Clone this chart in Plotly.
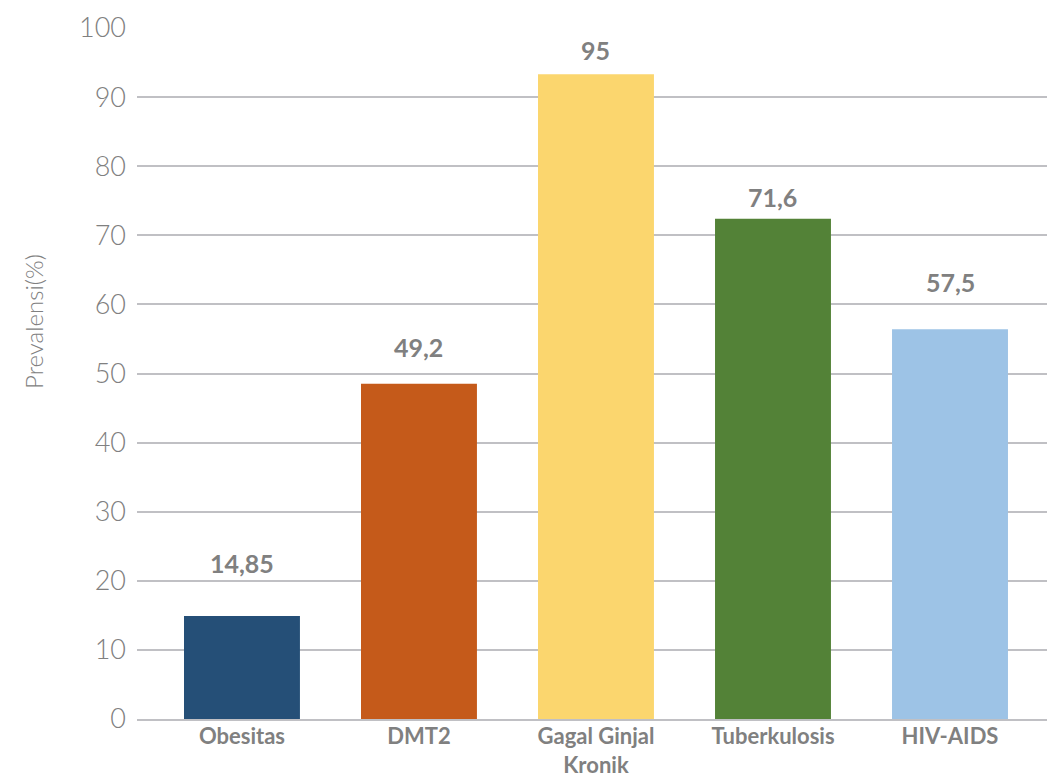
import plotly.graph_objects as go

categories = ["Obesitas", "DMT2", "Gagal Ginjal<br>Kronik", "Tuberkulosis", "HIV-AIDS"]
bar_values = [14.9, 48.5, 93.3, 72.4, 56.4]
label_texts = ["14,85", "49,2", "95", "71,6", "57,5"]
y_ticks = [0, 10, 20, 30, 40, 50, 60, 70, 80, 90, 100]

# style
colors = ["#254F77", "#C55A1A", "#FBD66E", "#538237", "#9DC3E6"]
label_shift_px = [53, 37, 24, 22, 47]
grid_color = "#C0C0C4"
tick_color = "#808080"
font_family = "Lato, 'Open Sans', sans-serif"

fig = go.Figure()
fig.add_trace(go.Bar(
    x=list(range(len(categories))),
    y=bar_values,
    marker=dict(color=colors, line=dict(width=0)),
    width=0.655,
    hoverinfo="skip",
))

for i, (v, t) in enumerate(zip(bar_values, label_texts)):
    fig.add_annotation(
        x=i, y=v, text=f"<b>{t}</b>", showarrow=False,
        yanchor="middle", yshift=label_shift_px[i],
        font=dict(family=font_family, size=25, color=tick_color),
    )

fig.add_annotation(
    xref="paper", yref="paper", x=-0.114, y=0.575,
    text="Prevalensi(%)", textangle=-90, showarrow=False,
    xanchor="center", yanchor="middle",
    font=dict(family=font_family, size=24, color=tick_color, weight=300),
)

fig.update_layout(
    width=1047, height=781,
    margin=dict(l=137, r=0, t=28, b=62, autoexpand=False),
    paper_bgcolor="white", plot_bgcolor="white",
    showlegend=False,
    xaxis=dict(
        range=[-0.593, 4.548],
        tickmode="array",
        tickvals=list(range(len(categories))),
        ticktext=[f"<b>{c}</b>" for c in categories],
        tickfont=dict(family=font_family, size=22, color=tick_color),
        showgrid=False, zeroline=False,
        showline=True, linecolor=grid_color, linewidth=2,
        ticks="", ticklabelstandoff=-3, automargin=False,
    ),
    yaxis=dict(
        range=[0, 100],
        tickmode="array", tickvals=y_ticks,
        tickfont=dict(family=font_family, size=27, color=tick_color, weight=300),
        showgrid=True, gridcolor=grid_color, gridwidth=2,
        zeroline=False, showline=False,
        ticks="", ticklabelstandoff=10, automargin=False,
    ),
)

fig.write_html("out.html")
